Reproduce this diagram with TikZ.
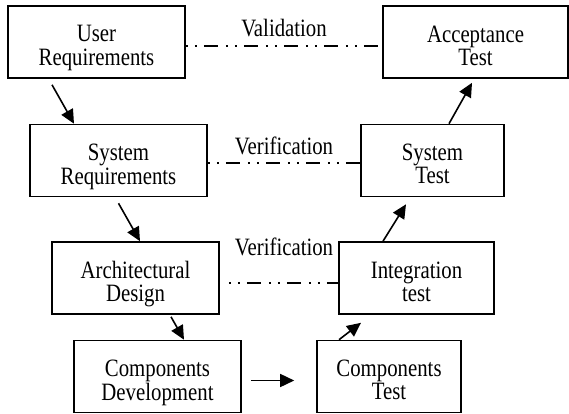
\documentclass[tikz,border=0pt]{standalone}
\usepackage{fontspec}
\setmainfont{Liberation Serif}
\usetikzlibrary{arrows.meta}
% text in the figure is drawn a little taller than wide
\newcommand{\tall}[1]{\scalebox{1}[1.2]{\begin{tabular}{@{}c@{}}#1\end{tabular}}}
% box text sits a bit below the middle
\newcommand{\boxtext}[1]{\raisebox{0pt}[\dimexpr\height+14pt\relax][\depth]{\tall{#1}}}
\tikzset{
  stage/.style={
    rectangle,
    minimum height=72pt,
    align=center,
    inner sep=0pt,
    line width=1.6pt,
    draw=black,
    font=\fontsize{20.8}{19.4}\selectfont
  },
  arrow/.style={line width=1.6pt,-{Triangle[length=14pt,width=13pt]}},
  trace/.style={line width=1.6pt,
    dash pattern=on 2pt off 7pt on 2pt off 7pt on 14pt off 8pt},
  tag/.style={font=\fontsize{20.8}{19.4}\selectfont, inner sep=0pt}
}

\begin{document}
\begin{tikzpicture}[x=1pt,y=-1pt]
  \useasboundingbox (0,0) rectangle (569,414);
  % left branch
  \node (ur) [stage, minimum width=177pt] at (96.5,42) {\boxtext{User\\Requirements}};
  \node (sr) [stage, minimum width=177pt] at (118.5,160.5) {\boxtext{System\\Requirements}};
  \node (ad) [stage, minimum width=167pt] at (135.5,278) {\boxtext{Architectural\\Design}};
  \node (cd) [stage, minimum width=167pt] at (157.5,376.5) {\boxtext{Components\\Development}};
  % right branch
  \node (at) [stage, minimum width=185pt] at (475.5,42) {\boxtext{Acceptance\\Test}};
  \node (st) [stage, minimum width=143pt] at (432.5,160.5) {\boxtext{System\\Test}};
  \node (it) [stage, minimum width=155pt] at (416.5,278) {\boxtext{Integration\\test}};
  \node (ct) [stage, minimum width=144pt] at (389,376.5) {\boxtext{Components\\Test}};

  \draw[arrow] ([xshift=-44.5pt,yshift=-6pt]ur.south) -- ([xshift=-44.5pt]sr.north);
  \draw[arrow] ([yshift=-6pt]sr.south) -- ([xshift=4.5pt]ad.north);
  \draw[arrow] ([xshift=35.5pt,yshift=-2pt]ad.south) -- ([xshift=26.5pt]cd.north);
  \draw[arrow] ([xshift=9pt,yshift=-4pt]cd.east) -- ([xshift=-22pt,yshift=-4pt]ct.west);
  \draw[arrow] ([xshift=-50pt]ct.north) -- ([xshift=-55.5pt,yshift=-8pt]it.south);
  \draw[arrow] ([xshift=-33.5pt]it.north) -- ([xshift=-26.5pt,yshift=-7pt]st.south);
  \draw[arrow] ([xshift=16.5pt]st.north) -- ([xshift=-3.5pt,yshift=-4pt]at.south);

  \draw[trace] ([yshift=-4pt]ur.east) -- ([yshift=-4pt]at.west);
  \draw[trace] ([yshift=-2.5pt]sr.east) -- ([yshift=-2.5pt]st.west);
  \draw[trace] ([xshift=9pt,yshift=-5pt]ad.east) -- ([yshift=-5pt]it.west);

  \node (val) [tag] at (284,31) {\tall{Validation}};
  \node (ver1) [tag] at (284,149.5) {\tall{Verification}};
  \node (ver2) [tag] at (284,250) {\tall{Verification}};
\end{tikzpicture}
\end{document}
